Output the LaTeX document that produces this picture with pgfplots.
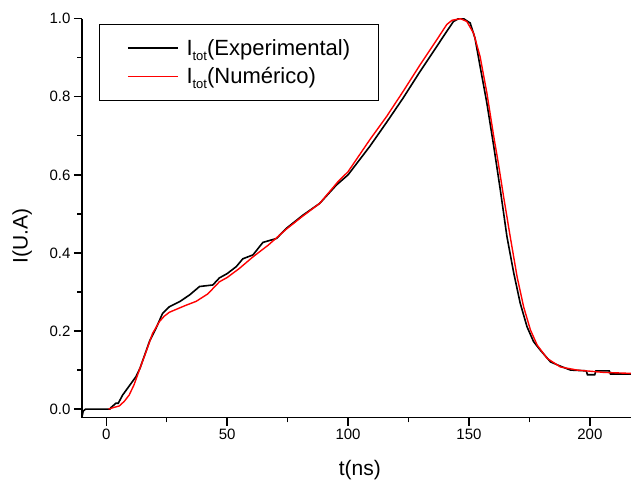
\documentclass[border=0pt]{standalone}
\usepackage{pgfplots}
\pgfplotsset{compat=1.18}
\usepackage{fontspec}
\setmainfont{Liberation Sans}

% I with a lowered "tot" subscript in the text font
\newcommand{\Itot}{I\raisebox{-5pt}{\fontsize{13}{13}\selectfont tot}}

\begin{document}
\begin{tikzpicture}
\useasboundingbox (-82pt,-71.3pt) rectangle (549pt,417.7pt);
\begin{axis}[
  at={(0pt,0pt)}, anchor=south west,
  scale only axis, width=549pt, height=399pt,
  xmin=-10, xmax=217, ymin=-0.022, ymax=1.0,
  axis x line*=bottom, axis y line*=left,
  axis line style={line width=1.5pt, black},
  tick align=outside,
  major tick length=8pt, minor tick length=4.7pt,
  every tick/.style={line width=1.3pt, black},
  xtick={0,50,100,150,200}, minor xtick={25,75,125,175},
  ytick={0,0.2,0.4,0.6,0.8,1.0}, minor ytick={0.1,0.3,0.5,0.7,0.9},
  /pgf/number format/assume math mode=true,
  yticklabel style={/pgf/number format/.cd, fixed, fixed zerofill, precision=1},
  tick label style={font=\fontsize{15}{15}\selectfont},
  xlabel={t(ns)},
  xlabel style={at={(axis description cs:0.506,-0.131)}, anchor=center, font=\fontsize{21}{21}\selectfont},
  ylabel={I(U.A)},
  ylabel style={at={(axis description cs:-0.109,0.455)}, anchor=center, font=\fontsize{21}{21}\selectfont},
  legend style={at={(axis description cs:0.031,0.987)}, anchor=north west,
    draw=black, line width=0.8pt, inner xsep=28pt, inner ysep=15pt,
    nodes={inner sep=0pt}, column sep=8pt,
    row sep=11pt, font=\fontsize{22}{26}\selectfont, cells={anchor=west}},
  legend image code/.code={\draw[#1, line width=1.1pt] (0pt,0pt) -- (50pt,0pt);},
]
% measured current
\addplot[black, line width=1.6pt] coordinates {
(-10,-0.02) (-9.5,-0.005) (-8.5,0) (1.5,0) (2,0.004) (4,0.015) (5,0.015)
(6.8,0.036) (9.5,0.059) (12.3,0.083) (14,0.105) (16,0.14) (18,0.175)
(20.6,0.207) (23.3,0.245) (26.1,0.262) (30.3,0.275) (34.4,0.292)
(38.6,0.314) (44.1,0.318) (46.8,0.336) (50,0.347) (53.8,0.365)
(56.5,0.385) (60.7,0.395) (64.8,0.427) (70.4,0.437) (74.5,0.463)
(81.4,0.497) (88.3,0.527) (95.2,0.574) (100,0.600) (109,0.673)
(116,0.735) (122.8,0.797) (129.8,0.865) (136.7,0.929) (140,0.960)
(143.6,0.993) (145.7,1.0) (147.8,1.0) (150.5,0.989) (152.5,0.950)
(154.6,0.878) (157.4,0.784) (160.2,0.675) (163,0.560) (165.7,0.442)
(168.5,0.349) (171.2,0.271) (174,0.211) (176.7,0.173) (179.5,0.151)
(183.7,0.121) (187.8,0.110) (192,0.100) (198.5,0.098) (199,0.088)
(202,0.088) (202.5,0.098) (208,0.098) (208.5,0.090) (217,0.090)
};
\addlegendentry{\Itot(Experimental)}
% simulated current
\addplot[red, line width=1.4pt] coordinates {
(1,0) (3,0.004) (5.4,0.008) (7.5,0.020) (9.5,0.036) (11.5,0.062)
(13.7,0.100) (16.5,0.147) (19.2,0.194) (22,0.224) (24,0.238)
(26.1,0.248) (30.3,0.259) (33,0.266) (37.2,0.276) (42,0.295)
(46.8,0.326) (50,0.337) (55,0.360) (60.7,0.390) (67,0.420)
(74.5,0.461) (81,0.493) (88.3,0.527) (95.9,0.583) (100,0.608)
(109,0.690) (116,0.750) (122.8,0.814) (129.8,0.882) (136.7,0.946)
(140.8,0.985) (143,0.996) (146.5,1.0) (149.1,0.993) (151.9,0.963)
(154.6,0.903) (157.4,0.810) (160.2,0.700) (162,0.635) (164.3,0.545)
(167.1,0.440) (169.9,0.339) (172.6,0.262) (175.4,0.203) (178.2,0.164)
(182.3,0.130) (187.8,0.108) (194.7,0.100) (205.8,0.094) (217,0.0915)
};
\addlegendentry{\Itot(Numérico)}
\end{axis}
\end{tikzpicture}
\end{document}
